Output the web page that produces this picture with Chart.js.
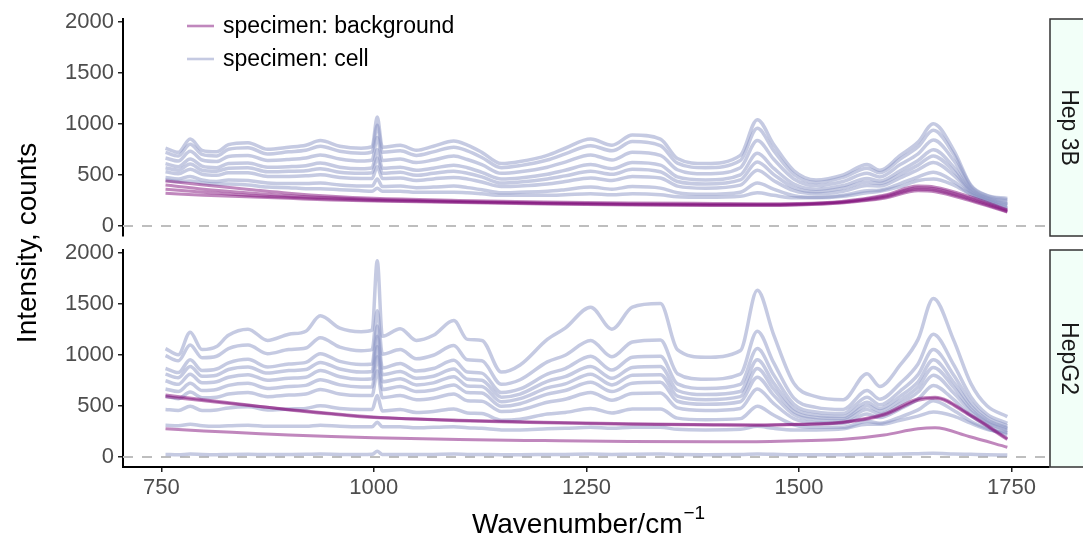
<!DOCTYPE html>
<html>
<head>
<meta charset="utf-8">
<script src="https://cdn.jsdelivr.net/npm/chart.js@4/dist/chart.umd.min.js"></script>
<style>
  html, body { margin: 0; padding: 0; background: #fff; }
  #wrap { position: relative; width: 1083px; height: 543px; overflow: hidden; }
  #wrap canvas { position: absolute; left: 0; top: 0; }
</style>
</head>
<body>
<div id="wrap">
  <canvas id="panelTop" width="1083" height="543"></canvas>
  <canvas id="panelBottom" width="1083" height="543"></canvas>
</div>
<script>
// Raman spectra, wavenumber grid shared by the cell spectra
const wavenumber = [755, 770, 784, 798, 815, 829, 852, 875, 900, 920,
  937, 960, 985, 998, 1004, 1010, 1031, 1050, 1070, 1094,
  1110, 1127, 1150, 1172, 1204, 1225, 1255, 1280, 1304, 1337,
  1357, 1390, 1431, 1451, 1470, 1494, 1520, 1552, 1580, 1595,
  1619, 1640, 1658, 1682, 1702, 1721, 1745];

// background spectra are smooth, so a coarser grid is enough
const bgWavenumber = [755, 800, 850, 900, 950, 1000, 1100, 1200, 1300, 1400,
  1450, 1500, 1550, 1600, 1640, 1660, 1700, 1745];

const hep3bCell = [
  [760,720,850,740,725,795,815,750,770,790, 835,780,760,775,1065,770,790,740,780,830, 790,720,610,630,690,760,850,790,890,850, 660,610,690,1040,800,540,450,500,600,545, 690,820,1000,740,400,300,270],
  [720,685,800,700,685,750,765,705,725,740, 780,730,710,725,985,720,735,690,725,770, 735,670,570,590,645,705,785,735,825,785, 615,570,640,955,740,505,425,475,565,520, 655,775,935,700,390,295,255],
  [665,635,730,645,630,680,690,640,650,665, 695,655,635,645,865,640,655,620,645,685, 650,600,515,530,575,625,695,645,720,690, 550,510,570,835,655,460,395,435,515,480, 600,705,840,640,370,280,240],
  [610,580,655,585,570,610,615,575,580,590, 615,575,560,570,745,565,575,545,565,595, 570,525,460,470,505,545,600,560,620,595, 480,450,500,710,565,410,360,395,465,440, 540,640,745,575,350,270,220],
  [570,545,605,545,535,565,570,530,535,540, 560,525,515,520,665,515,525,495,515,535, 515,480,420,430,460,490,535,505,555,530, 435,410,450,625,505,375,335,370,430,415, 505,595,685,535,340,265,210],
  [530,510,555,505,495,520,520,485,485,490, 500,475,465,465,580,465,470,445,460,475, 460,430,385,390,410,435,470,445,485,470, 390,370,400,545,445,345,315,340,395,390, 470,550,620,495,330,255,200],
  [475,460,485,450,435,450,445,420,415,415, 420,400,390,390,460,385,390,375,380,390, 375,355,325,330,340,355,380,360,385,370, 325,310,330,420,360,295,280,300,345,350, 415,480,525,435,310,245,180],
  [450,435,440,420,410,410,400,380,375,365, 365,355,345,340,370,340,340,330,330,330, 325,315,300,300,300,305,315,305,315,305, 285,280,290,325,300,275,275,290,325,340, 385,445,460,400,310,250,170]
];

const hep3bBackground = [
  [440,400,360,320,290,270,250,235,225,220,218,220,240,300,390,380,290,160],
  [400,360,325,295,275,260,240,225,215,210,210,215,235,290,375,365,275,150],
  [360,330,300,280,265,250,235,220,210,205,205,210,230,280,360,350,262,142],
  [320,300,285,270,255,245,230,215,205,200,200,205,225,270,345,335,250,135]
];

const hepg2Cell = [
  [1060,1000,1220,1050,1080,1190,1250,1140,1200,1230, 1380,1260,1225,1240,1920,1180,1255,1140,1190,1335, 1150,1140,830,900,1150,1260,1465,1250,1465,1500, 1050,975,1040,1630,1200,720,590,560,815,690, 900,1150,1550,1140,720,500,395],
  [990,940,1095,970,985,1060,1095,1010,1050,1065, 1165,1075,1040,1050,1430,1005,1050,960,995,1090, 950,940,710,755,930,995,1140,980,1125,1145, 815,760,810,1230,925,575,485,465,650,565, 720,910,1200,900,590,420,330],
  [865,825,950,845,860,920,955,880,910,925, 1010,935,905,910,1280,870,915,840,865,945, 830,820,630,665,810,865,985,850,975,985, 715,670,710,1060,805,515,440,425,585,510, 645,805,1050,800,535,390,305],
  [810,775,885,790,800,855,880,820,845,855, 925,860,830,835,1180,805,835,770,790,860, 760,750,585,615,740,785,885,770,875,885, 650,610,640,950,725,475,410,395,535,475, 595,735,950,730,500,365,285],
  [745,710,810,725,735,780,805,750,770,780, 845,785,760,765,1080,735,765,705,725,785, 695,690,540,570,675,715,810,705,800,805, 595,560,590,865,665,445,385,375,500,450, 555,685,875,680,470,350,275],
  [665,640,720,650,660,700,720,670,690,700, 755,705,685,685,980,660,690,640,655,705, 630,625,495,520,615,650,730,640,720,730, 545,515,540,780,605,415,365,355,465,420, 520,635,800,625,445,335,260],
  [595,570,635,580,585,615,630,590,605,615, 660,615,600,600,840,580,600,560,575,615, 550,545,445,460,535,565,630,555,620,625, 480,455,475,665,525,375,335,330,420,385, 470,565,700,560,405,310,240],
  [465,455,495,455,460,480,490,460,470,475, 500,475,465,465,600,450,465,435,445,470, 430,425,360,370,420,435,475,430,470,470, 380,365,375,495,410,315,290,290,350,330, 390,460,550,455,350,280,215],
  [310,305,320,305,300,305,310,300,300,300, 310,300,295,295,340,295,295,285,290,295, 285,280,265,265,275,280,290,280,290,290, 270,265,270,300,280,265,265,275,320,320, 360,400,440,400,330,270,235],
  [25,22,28,24,22,25,26,24,25,26, 28,25,24,26,55,25,25,24,25,28, 25,24,22,22,24,25,28,25,27,28, 24,23,24,30,26,22,22,23,26,26, 28,32,36,30,26,22,20]
];

const hepg2Background = [
  [605,560,510,460,420,385,360,340,325,315,312,320,340,420,570,585,420,180],
  [590,550,505,465,425,390,355,335,320,312,310,318,335,410,555,575,410,170],
  [275,255,235,215,200,188,170,160,152,150,150,158,170,215,275,285,200,95]
];

const yTicks = [0, 500, 1000, 1500, 2000];
const xTicks = [750, 1000, 1250, 1500, 1750];
const legendLabels = ['specimen: background', 'specimen: cell'];

const FONT = '"Liberation Sans", Arial, Helvetica, sans-serif';
const CELL_COLOUR = 'rgba(140,150,198,0.5)';
const BG_COLOUR = 'rgba(129,15,124,0.5)';

function spectra(xs, rows, colour, order, width) {
  return rows.map(ys => ({
    data: xs.map((x, i) => ({ x: x, y: ys[i] })),
    borderColor: colour,
    borderWidth: width,
    pointRadius: 0,
    fill: false,
    order: order,
    cubicInterpolationMode: 'monotone'
  }));
}

// dashed reference line at zero intensity
const zeroLine = {
  id: 'zeroLine',
  beforeDatasetsDraw(chart) {
    const { ctx, chartArea: a, scales: { y } } = chart;
    const py = y.getPixelForValue(0);
    ctx.save();
    ctx.strokeStyle = '#bebebe';
    ctx.lineWidth = 2;
    ctx.setLineDash([10, 9]);
    ctx.beginPath();
    ctx.moveTo(a.left, py);
    ctx.lineTo(a.right, py);
    ctx.stroke();
    ctx.restore();
  }
};

// facet strip on the right of each panel
const strip = {
  id: 'strip',
  afterDraw(chart, args, opts) {
    const { ctx, chartArea: a } = chart;
    ctx.save();
    ctx.fillStyle = '#f2fff8';
    ctx.strokeStyle = '#333';
    ctx.lineWidth = 1.5;
    ctx.fillRect(a.right + 1, a.top, 45, a.bottom - a.top);
    ctx.strokeRect(a.right + 1, a.top, 45, a.bottom - a.top);
    ctx.translate(1068, (a.top + a.bottom) / 2);
    ctx.rotate(Math.PI / 2);
    ctx.fillStyle = '#1a1a1a';
    ctx.font = '23px ' + FONT;
    ctx.textAlign = 'center';
    ctx.textBaseline = 'middle';
    ctx.fillText(opts.label, 0, 0);
    ctx.restore();
  }
};

const legendBox = {
  id: 'legendBox',
  afterDraw(chart) {
    const ctx = chart.ctx;
    const colours = [BG_COLOUR, CELL_COLOUR];
    const rows = [26, 59];
    ctx.save();
    ctx.font = '23px ' + FONT;
    ctx.textBaseline = 'middle';
    ctx.fillStyle = '#000';
    legendLabels.forEach((txt, i) => {
      ctx.strokeStyle = colours[i];
      ctx.lineWidth = 2.6;
      ctx.beginPath();
      ctx.moveTo(187, rows[i]);
      ctx.lineTo(214, rows[i]);
      ctx.stroke();
      ctx.fillText(txt, 223, rows[i] + 1);
    });
    ctx.restore();
  }
};

const axisTitles = {
  id: 'axisTitles',
  afterDraw(chart) {
    const ctx = chart.ctx;
    ctx.save();
    ctx.fillStyle = '#000';
    ctx.font = '28px ' + FONT;
    ctx.textBaseline = 'alphabetic';
    const main = 'Wavenumber/cm';
    const sup = '\u22121';
    const mw = ctx.measureText(main).width;
    ctx.font = '19px ' + FONT;
    const sw = ctx.measureText(sup).width;
    const x0 = 588 - (mw + sw) / 2;
    ctx.font = '28px ' + FONT;
    ctx.fillText(main, x0, 533);
    ctx.font = '19px ' + FONT;
    ctx.fillText(sup, x0 + mw + 1, 519);
    ctx.translate(28, 243);
    ctx.rotate(-Math.PI / 2);
    ctx.font = '28px ' + FONT;
    ctx.textAlign = 'center';
    ctx.textBaseline = 'middle';
    ctx.fillText('Intensity, counts', 0, 0);
    ctx.restore();
  }
};

const plainNumber = v => String(v);

function yScale() {
  return {
    min: -98,
    max: 2024,
    afterFit(s) { s.width = 123; },
    afterBuildTicks(s) { s.ticks = yTicks.map(v => ({ value: v })); },
    ticks: { color: '#4d4d4d', font: { family: FONT, size: 22 }, padding: 4, callback: plainNumber },
    grid: { drawOnChartArea: false, drawTicks: true, tickLength: 5, color: '#222', lineWidth: 1.5 },
    border: { display: true, color: '#000', width: 2 }
  };
}

function panel(canvasId, cells, backgrounds, label, isBottom) {
  const datasets = spectra(bgWavenumber, backgrounds, BG_COLOUR, 0, 3)
    .concat(spectra(wavenumber, cells, CELL_COLOUR, 1, 3.5));
  const plugins = [zeroLine, strip];
  if (isBottom) plugins.push(axisTitles); else plugins.push(legendBox);
  const xScale = {
    type: 'linear',
    min: 705,
    max: 1794,
    display: isBottom,
    afterBuildTicks(s) { s.ticks = xTicks.map(v => ({ value: v })); },
    ticks: { color: '#4d4d4d', font: { family: FONT, size: 22 }, padding: 3, maxRotation: 0, callback: plainNumber },
    grid: { drawOnChartArea: false, drawTicks: true, tickLength: 5, color: '#222', lineWidth: 1.5 },
    border: { display: true, color: '#000', width: 2 }
  };
  if (isBottom) xScale.afterFit = s => { s.height = 76; };
  return new Chart(document.getElementById(canvasId), {
    type: 'line',
    data: { datasets: datasets },
    options: {
      responsive: false,
      animation: false,
      devicePixelRatio: 1,
      layout: { padding: isBottom
        ? { top: 250, bottom: 0, left: 0, right: 34 }
        : { top: 19, bottom: 307, left: 0, right: 34 } },
      plugins: {
        legend: { display: false },
        tooltip: { enabled: false },
        strip: { label: label }
      },
      scales: { x: xScale, y: yScale() }
    },
    plugins: plugins
  });
}

panel('panelTop', hep3bCell, hep3bBackground, 'Hep 3B', false);
panel('panelBottom', hepg2Cell, hepg2Background, 'HepG2', true);
</script>
</body>
</html>
